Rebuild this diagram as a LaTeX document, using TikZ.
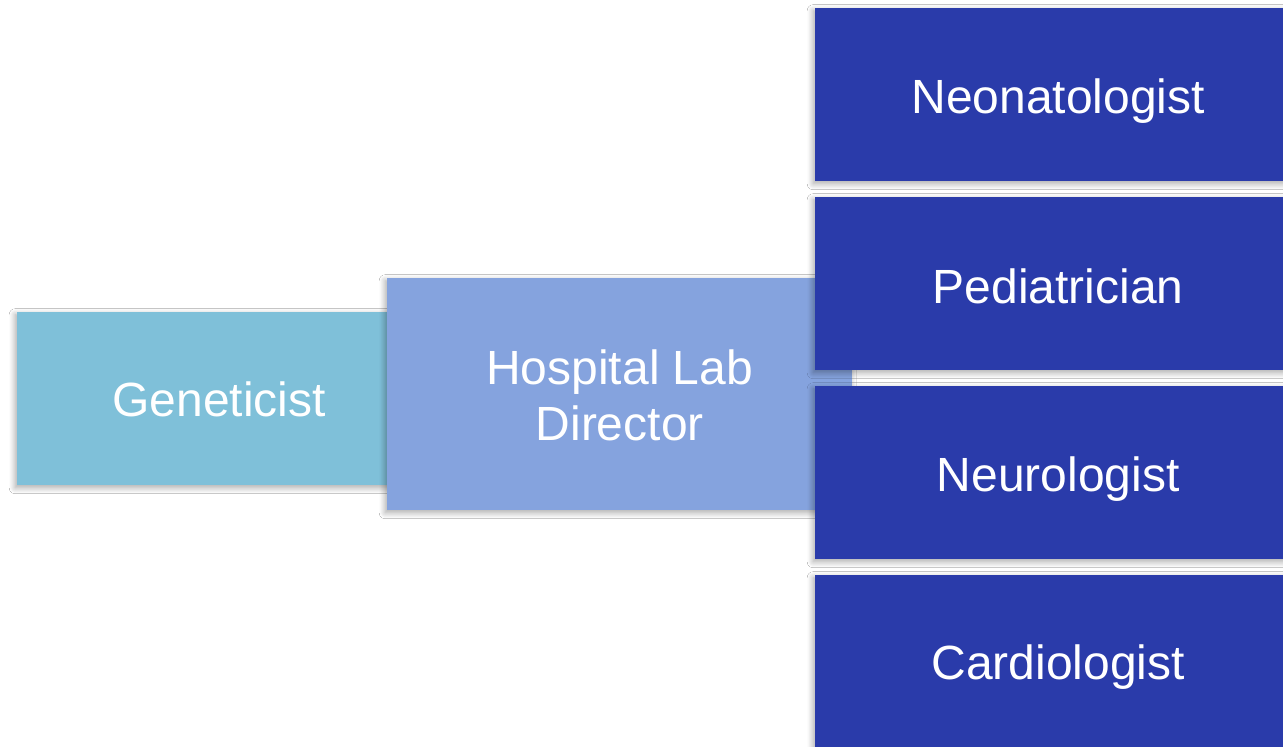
\documentclass[tikz,border=0pt]{standalone}
\usepackage{fontspec}
\setmainfont{Liberation Sans}
\usetikzlibrary{shadows.blur}
\definecolor{genblue}{HTML}{7FC0D9}
\definecolor{labblue}{HTML}{85A3DE}
\definecolor{docblue}{HTML}{2A3BAA}
\newcommand{\dn}[2]{\raisebox{-#1}[\height][\depth]{#2}}
\tikzset{
  boxbase/.style={anchor=north west, inner sep=0pt, text=white, align=center,
    font=\fontsize{48}{57}\selectfont,
    blur shadow={shadow xshift=-2pt, shadow yshift=-2.5pt, shadow blur radius=6pt, shadow blur steps=12, shadow opacity=35}},
  genbox/.style={boxbase, fill=genblue, minimum width=404pt, minimum height=173pt},
  labbox/.style={boxbase, fill=labblue, minimum width=465pt, minimum height=232pt},
  docbox/.style={boxbase, fill=docblue, minimum width=486pt, minimum height=173pt},
}
\begin{document}
\begin{tikzpicture}[x=1pt,y=-1pt]
\useasboundingbox[fill=white] (0,0) rectangle (1283,747);
\node[genbox] (gen) at (17,312) {\dn{1pt}{Geneticist}};
\node[labbox] (lab) at (387,278) {\dn{7pt}{\begin{tabular}{@{}c@{}}Hospital Lab\\[-1pt]Director\end{tabular}}};
\node[docbox] (neo) at (815,8) {\dn{6pt}{Neonatologist}};
\node[docbox] (ped) at (815,197) {\dn{3pt}{Pediatrician}};
\node[docbox] (neu) at (815,386) {\dn{6pt}{Neurologist}};
\node[docbox] (car) at (815,575) {\dn{5pt}{Cardiologist}};
\end{tikzpicture}
\end{document}
